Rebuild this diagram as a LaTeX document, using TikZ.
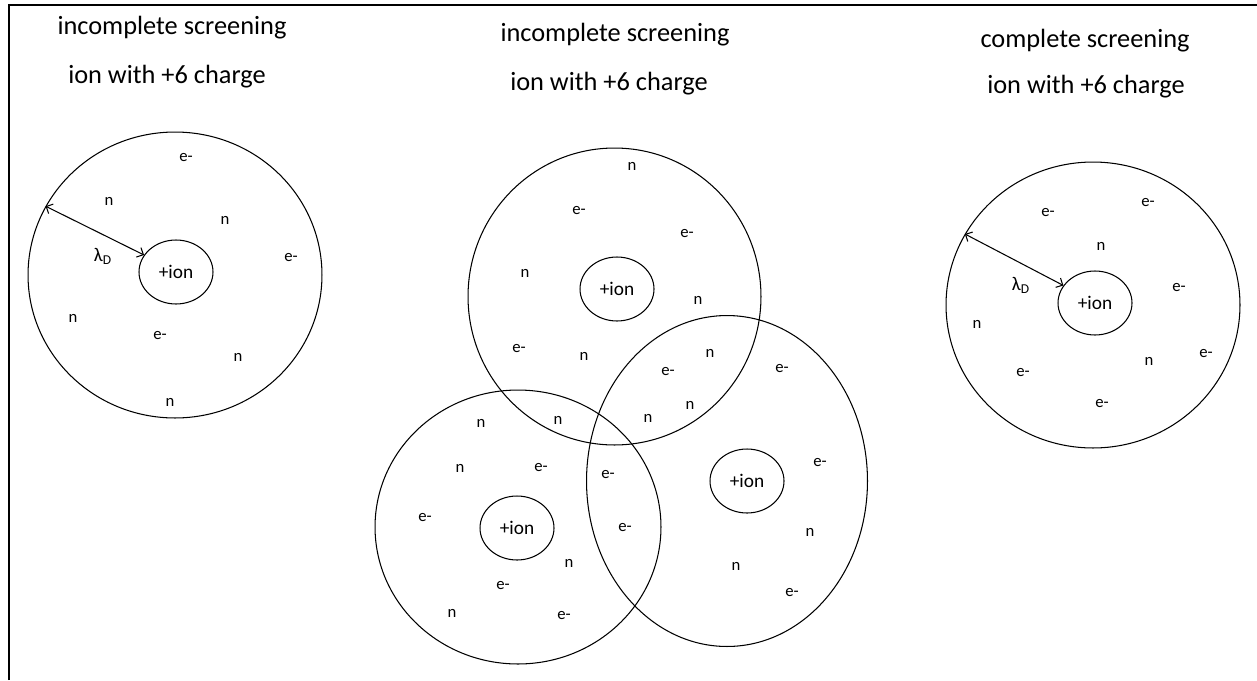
\documentclass[tikz,border=0pt]{standalone}
\usepackage{fontspec}
\setmainfont{Carlito}
\usetikzlibrary{arrows.meta, shapes.geometric}

\begin{document}
\begin{tikzpicture}[x=0.02cm, y=-0.02cm, line width=0.6pt,
	every node/.style={inner sep=0pt},
	sphere/.style={draw, ellipse},
	ioncore/.style={draw, ellipse, minimum width=1.48cm, minimum height=1.28cm, font=\fontsize{11}{13}\selectfont},
	title/.style={anchor=base, font=\fontsize{15}{18}\selectfont},
	particle/.style={font=\fontsize{9.5}{11}\selectfont},
	debye/.style={font=\fontsize{11}{13}\selectfont},
	radius arrow/.style={<->, >={Straight Barb[length=3pt, width=6pt]}}]
			\useasboundingbox (0,0) rectangle (1257,680);

			% Frame, top and left only
			\draw[line width=1.1pt] (9,680) -- (9,5) -- (1257,5);

			% Titles
			\node[title] (t1a) at (172, 34) {incomplete screening};
			\node[title] (t1b) at (167, 83) {ion with +6 charge};
			\node[title] (t2a) at (615, 41) {incomplete screening};
			\node[title] (t2b) at (609, 90) {ion with +6 charge};
			\node[title] (t3a) at (1085, 47) {complete screening};
			\node[title] (t3b) at (1086, 93) {ion with +6 charge};

			% Left sphere
			\node[sphere, minimum width=5.88cm, minimum height=5.72cm] (c1) at (175, 275) {};
			\node[ioncore] (i1) at (176, 272) {+ion};
			\draw[radius arrow] (c1.152) -- (i1.152);
			\node[debye] (lam1) at (103, 256) {λ\textsubscript{D}};

			\node[particle] (p1a) at (186, 158) {e-};
			\node[particle] (p1b) at (109, 201) {n};
			\node[particle] (p1c) at (225, 220) {n};
			\node[particle] (p1d) at (291, 258) {e-};
			\node[particle] (p1e) at (73, 318) {n};
			\node[particle] (p1f) at (160, 336) {e-};
			\node[particle] (p1g) at (238, 357) {n};
			\node[particle] (p1h) at (170, 402) {n};

			% Middle group, upper sphere
			\node[sphere, minimum width=5.86cm, minimum height=5.94cm] (c2) at (614.5, 296.5) {};
			\node[ioncore] (i2) at (617, 289) {+ion};

			\node[particle] (p2a) at (632, 166) {n};
			\node[particle] (p2b) at (579, 211) {e-};
			\node[particle] (p2c) at (687, 234) {e-};
			\node[particle] (p2d) at (525, 273) {n};
			\node[particle] (p2e) at (698, 300) {n};
			\node[particle] (p2f) at (519, 349) {e-};
			\node[particle] (p2g) at (584, 356) {n};
			\node[particle] (p2h) at (710, 353) {n};
			\node[particle] (p2i) at (668, 372) {e-};
			\node[particle] (p2j) at (690, 405) {n};
			\node[particle] (p2k) at (648, 418) {n};
			\node[particle] (p2l) at (558, 420) {n};
			\node[particle] (p2m) at (481, 423) {n};

			% Middle group, lower left sphere
			\node[sphere, minimum width=5.72cm, minimum height=5.48cm] (c3) at (518, 527) {};
			\node[ioncore] (i3) at (517, 528) {+ion};

			\node[particle] (p3a) at (460, 468) {n};
			\node[particle] (p3b) at (541, 468) {e-};
			\node[particle] (p3c) at (608, 475) {e-};
			\node[particle] (p3d) at (425, 517) {e-};
			\node[particle] (p3e) at (625, 527) {e-};
			\node[particle] (p3f) at (569, 563) {n};
			\node[particle] (p3g) at (503, 585) {e-};
			\node[particle] (p3h) at (452, 613) {n};
			\node[particle] (p3i) at (564, 615) {e-};

			% Middle group, lower right sphere
			\node[sphere, minimum width=5.62cm, minimum height=6.62cm] (c4) at (727, 481) {};
			\node[ioncore] (i4) at (747, 481) {+ion};

			\node[particle] (p4a) at (782, 369) {e-};
			\node[particle] (p4b) at (820, 462) {e-};
			\node[particle] (p4c) at (810, 532) {n};
			\node[particle] (p4d) at (736, 566) {n};
			\node[particle] (p4e) at (792, 592) {e-};

			% Right sphere
			\node[sphere, minimum width=5.88cm, minimum height=5.72cm] (c5) at (1093, 305) {};
			\node[ioncore] (i5) at (1095, 303) {+ion};
			\draw[radius arrow] (c5.151) -- (i5.151);
			\node[debye] (lam5) at (1021, 285) {λ\textsubscript{D}};

			\node[particle] (p5a) at (1048, 213) {e-};
			\node[particle] (p5b) at (1148, 203) {e-};
			\node[particle] (p5c) at (1101, 246) {n};
			\node[particle] (p5d) at (1179, 288) {e-};
			\node[particle] (p5e) at (977, 324) {n};
			\node[particle] (p5f) at (1149, 361) {n};
			\node[particle] (p5g) at (1206, 354) {e-};
			\node[particle] (p5h) at (1023, 373) {e-};
			\node[particle] (p5i) at (1102, 404) {e-};

		\end{tikzpicture}
\end{document}
